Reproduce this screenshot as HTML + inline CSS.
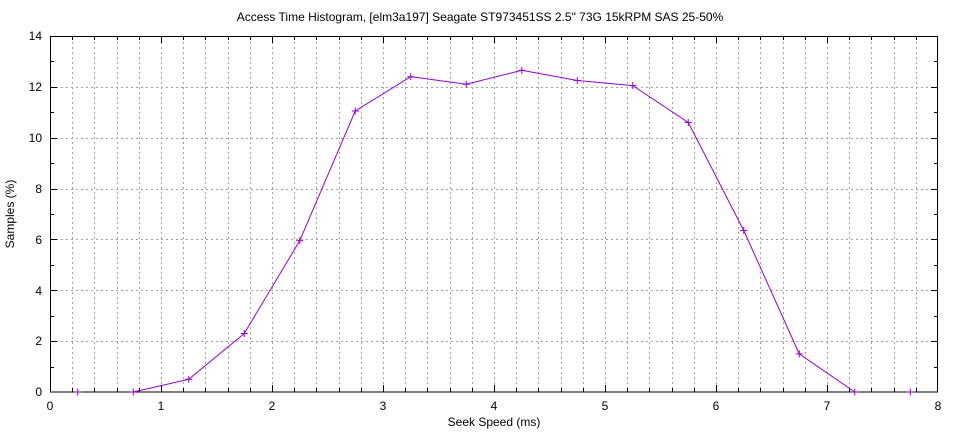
<!DOCTYPE html>
<html><head><meta charset="utf-8"><style>
body{margin:0;background:#fff}
svg{display:block;font-family:"Liberation Sans",sans-serif;font-size:12px}
</style></head><body>
<svg id="s" width="960" height="432" viewBox="0 0 960 432">
<rect width="960" height="432" fill="#fff"/>
<g id="grid" stroke="#a0a0a0" stroke-width="1" stroke-dasharray="2,3"></g>
<g id="ticks" stroke="#000" stroke-width="1"></g>
<rect x="50.5" y="36.5" width="887" height="355.5" fill="none" stroke="#000" stroke-width="1"/>
<text x="480" y="21" text-anchor="middle">Access Time Histogram, [elm3a197] Seagate ST973451SS 2.5" 73G 15kRPM SAS 25-50%</text>
<g text-anchor="end">
<text x="42" y="396">0</text><text x="42" y="345">2</text><text x="42" y="295">4</text>
<text x="42" y="244">6</text><text x="42" y="193">8</text><text x="42" y="142">10</text>
<text x="42" y="91">12</text><text x="42" y="40">14</text>
</g>
<g text-anchor="middle">
<text x="50" y="410">0</text><text x="161" y="410">1</text><text x="272" y="410">2</text>
<text x="383" y="410">3</text><text x="494" y="410">4</text><text x="605" y="410">5</text>
<text x="716" y="410">6</text><text x="827" y="410">7</text><text x="938" y="410">8</text>
<text x="494" y="426">Seek Speed (ms)</text>
</g>
<text transform="translate(14,214) rotate(-90)" text-anchor="middle">Samples (%)</text>
<polyline id="ln" fill="none" stroke="#9400d3" stroke-width="1"/>
<g id="pts" stroke="#9400d3" stroke-width="1"></g>
</svg>
<script>
var ns="http://www.w3.org/2000/svg";
function L(g,x1,y1,x2,y2){var l=document.createElementNS(ns,"line");l.setAttribute("x1",x1);l.setAttribute("y1",y1);l.setAttribute("x2",x2);l.setAttribute("y2",y2);document.getElementById(g).appendChild(l);}
var X=v=>50+111*v, Y=v=>392-25.43*v;
for(var k=1;k<40;k++){var x=Math.round(X(k*0.2))+0.5;L("grid",x,37,x,391);L("ticks",x,392,x,k%5?388:385);L("ticks",x,36,x,k%5?40:43);}
for(var k=1;k<14;k++){var y=Math.round(Y(k))+0.5;if(k%2==0)L("grid",51,y,937,y);L("ticks",50,y,k%2?54:57,y);L("ticks",938,y,k%2?934:931,y);}
var d=[[0.25,0],[0.75,0],[1.25,0.5],[1.75,2.3],[2.25,5.95],[2.75,11.05],[3.25,12.4],[3.75,12.1],[4.25,12.65],[4.75,12.25],[5.25,12.05],[5.75,10.6],[6.25,6.35],[6.75,1.5],[7.25,0],[7.75,0]];
var p=[];d.forEach(function(q,i){var x=X(q[0]),y=Y(q[1]);if(i>0&&i<15)p.push(x+","+y);L("pts",x-3.5,y,x+3.5,y);L("pts",x,y-3.5,x,y+3.5);});
document.getElementById("ln").setAttribute("points",p.join(" "));
</script>
</body></html>
